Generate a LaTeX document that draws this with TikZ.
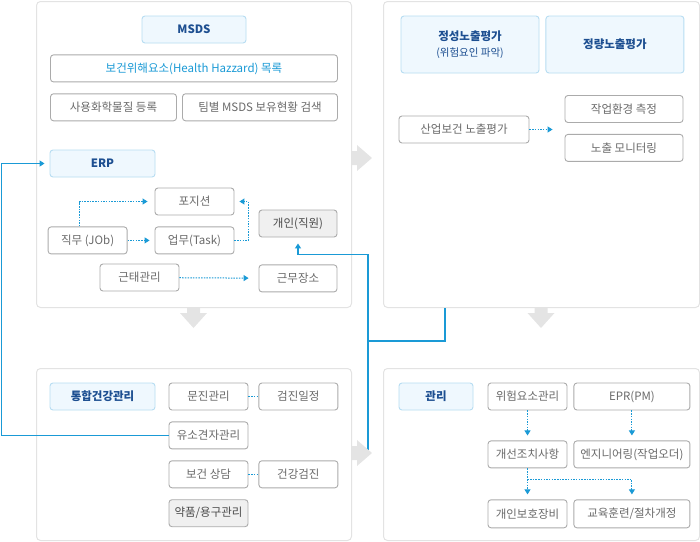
\documentclass[tikz,border=0pt]{standalone}
\usepackage{fontspec}
\setmainfont{Noto Sans CJK KR}
\usetikzlibrary{arrows.meta, positioning, calc}

\definecolor{navy}{HTML}{1D4F91}
\definecolor{skyfill}{HTML}{EFF8FE}
\definecolor{skyline}{HTML}{B7DDF2}
\definecolor{boxline}{HTML}{ABABAB}
\definecolor{boxtext}{HTML}{6A6A6A}
\definecolor{panelline}{HTML}{E3E3E3}
\definecolor{linkblue}{HTML}{1A9AD6}
\definecolor{arrowgray}{HTML}{E4E4E4}
\definecolor{grayfill}{HTML}{F0F0F0}

\begin{document}
\begin{tikzpicture}[
    x=1pt, y=-1pt,
    font=\fontsize{11.5}{13.5}\selectfont,
    >={Triangle[length=5pt,width=6pt]},
    panel/.style={rectangle, rounded corners=4pt, draw=panelline, fill=white, line width=1pt,
                  anchor=north west, minimum width=315pt},
    item/.style={rectangle, rounded corners=3pt, draw=boxline, fill=white, line width=0.9pt,
                 text=boxtext, minimum width=79pt, minimum height=27pt, inner sep=2pt, text centered},
    grayitem/.style={item, fill=grayfill, text=black!70},
    title/.style={item, draw=skyline, fill=skyfill, text=navy, align=center,
                  font=\fontsize{11.5}{13.5}\selectfont\bfseries},
    bline/.style={draw=linkblue, line width=1.3pt},
    dotarrow/.style={draw=linkblue, line width=1pt, dash pattern=on 1.5pt off 1.2pt, ->, shorten >=6pt},
    dotline/.style={draw=linkblue, line width=1pt, dash pattern=on 1.5pt off 1.2pt},
    bigarrow/.style={fill=arrowgray}
]
\useasboundingbox (0,0) rectangle (700,541);

\node (msdsPanel) [panel, minimum height=306pt] at (36,1) {};
\node (evalPanel) [panel, minimum width=316pt, minimum height=306pt] at (383,1) {};
\node (healthPanel) [panel, minimum height=172pt] at (36,368) {};
\node (mgmtPanel) [panel, minimum width=316pt, minimum height=172pt] at (383,368) {};

\node (msds) [title, minimum width=104pt] at (194,29.5) {MSDS};
\node (hazard) [item, minimum width=287pt, below=11pt of msds, text=linkblue] {보건위해요소(Health Hazzard) 목록};
\node (chem) [item, minimum width=126pt, below right=11pt and 0pt of hazard.south west] {사용화학물질 등록};
\node (teamsds) [item, minimum width=155pt, below left=11pt and 0pt of hazard.south east] {팀별 MSDS 보유현황 검색};
\node (erp) [title, minimum width=105pt] at (102.5,163.5) {ERP};
\node (position) [item] at (194.5,201.5) {포지션};
\node (task) [item, below=11pt of position] {업무(Task)};
\node (job) [item, left=27pt of task] {직무 (JOb)};
\node (person) [grayitem, minimum width=78pt] at (298,223.5) {개인(직원)};
\node (attend) [item] at (139.5,277.5) {근태관리};
\node (workplace) [item, minimum width=78pt, below=27pt of person] {근무장소};

\node (qual) [title, minimum width=138pt, minimum height=57pt] at (470,44.5)
    {정성노출평가\\[3pt]{\mdseries\fontsize{10.5}{12}\selectfont (위험요인 파악)}};
\node (quant) [title, minimum width=138pt, minimum height=57pt, right=6pt of qual] {정량노출평가};
\node (industry) [item, minimum width=130pt] at (464,129.5) {산업보건 노출평가};
\node (measure) [item, minimum width=118pt] at (624,109) {작업환경 측정};
\node (monitor) [item, minimum width=118pt, below=11pt of measure] {노출 모니터링};

\node (integ) [title, minimum width=105pt] at (102.5,396.5) {통합건강관리};
\node (inquiry) [item] at (208.5,396.5) {문진관리};
\node (schedule) [item, right=10pt of inquiry] {검진일정};
\node (finding) [item, below=11pt of inquiry] {유소견자관리};
\node (counsel) [item, below=11pt of finding] {보건 상담};
\node (checkup) [item, right=10pt of counsel] {건강검진};
\node (supply) [grayitem, below=11pt of counsel] {약품/용구관리};

\node (mgmt) [title, minimum width=74pt] at (436,396.5) {관리};
\node (risk) [item] at (527.5,396.5) {위험요소관리};
\node (epr) [item, minimum width=116pt, right=6pt of risk] {EPR(PM)};
\node (improve) [item, below=30pt of risk] {개선조치사항};
\node (eng) [item, minimum width=116pt, right=6pt of improve] {엔지니어링(작업오더)};
\node (ppe) [item, minimum height=28pt, below=31pt of improve] {개인보호장비};
\node (edu) [item, minimum width=116pt, minimum height=28pt, right=6pt of ppe] {교육훈련/절차개정};

\coordinate (leftedge) at (1.5,0);
\coordinate (split) at (368,453);
\coordinate (join) at (368,341);

\draw [bline, ->, shorten >=5pt] (finding.west) -- (finding.west -| leftedge) |- (erp.west);
\draw [bline, ->, shorten >=6pt] (split) |- ([yshift=-17pt]person.south) -- (person.south);
\draw [bline] ([xshift=62pt]evalPanel.south west) |- (join);

\draw [dotarrow, shorten >=7pt] ([xshift=-8pt]job.north) |- (position.west);
\draw [dotarrow, shorten >=5pt] (job) -- (task);
\draw [dotarrow, shorten >=5pt] (task.east) -- ++(14,0) |- (position.east);
\draw [dotarrow, shorten >=10pt] (attend) -- (workplace);
\draw [dotarrow, shorten >=12pt] (industry.east) -- (industry.east -| measure.west);
\draw [dotline] (inquiry) -- (schedule);
\draw [dotline] (counsel) -- (checkup);
\draw [dotarrow, shorten >=5pt] (risk) -- (improve);
\draw [dotarrow, shorten >=5pt] (epr) -- (eng);
\draw [dotarrow, shorten >=5pt] (improve) -- (ppe);
\draw [dotarrow, shorten >=5pt] (improve.south) |- ([yshift=-11pt]eng.south) -- (edu.north);

\fill [bigarrow] (351.5,151) -- (357,151) -- (357,145) -- (372,158) -- (357,171) -- (357,165) -- (351.5,165) -- cycle;
\fill [bigarrow] (351.5,446) -- (357,446) -- (357,440) -- (372,453) -- (357,466) -- (357,460) -- (351.5,460) -- cycle;
\fill [bigarrow] (187,307.5) -- (187,313) -- (180,313) -- (193.5,328) -- (207,313) -- (200,313) -- (200,307.5) -- cycle;
\fill [bigarrow] (534.5,307.5) -- (534.5,313) -- (527.5,313) -- (541,328) -- (554.5,313) -- (547.5,313) -- (547.5,307.5) -- cycle;

\end{tikzpicture}
\end{document}
